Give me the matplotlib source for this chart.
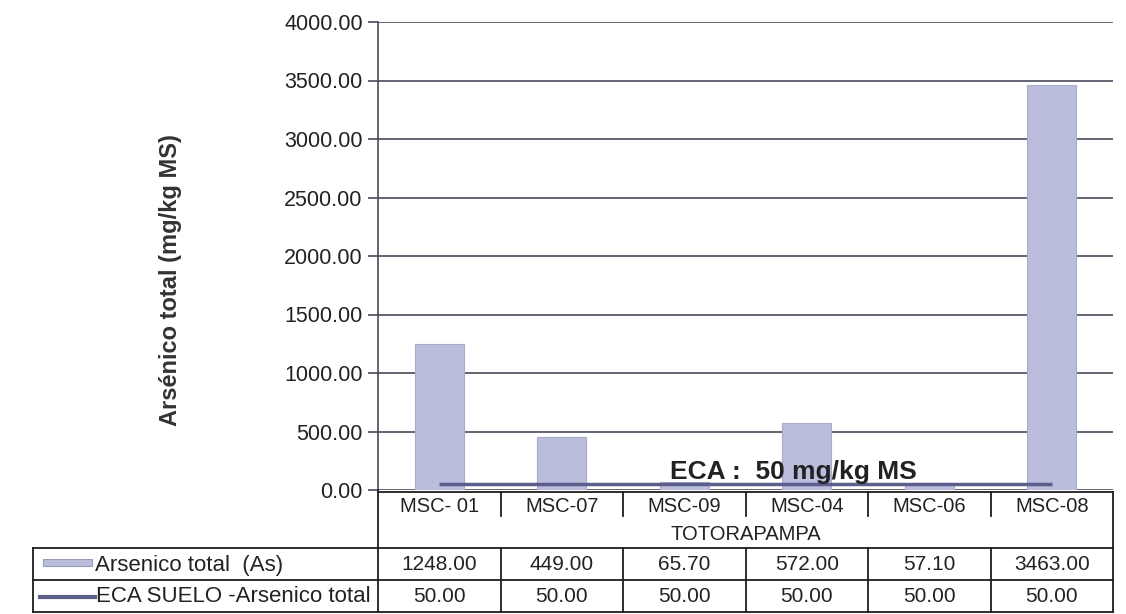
import numpy as np
import matplotlib.pyplot as plt
from matplotlib.patches import Rectangle

plt.rcParams['font.family'] = ['Liberation Sans', 'DejaVu Sans']

# Data
samples = ['MSC- 01', 'MSC-07', 'MSC-09', 'MSC-04', 'MSC-06', 'MSC-08']
arsenic = [1248.00, 449.00, 65.70, 572.00, 57.10, 3463.00]
eca = [50.00, 50.00, 50.00, 50.00, 50.00, 50.00]
group_label = 'TOTORAPAMPA'
series_names = ['Arsenico total  (As)', 'ECA SUELO -Arsenico total']
yticks = np.arange(0, 4001, 500)

bar_col = '#babddc'
line_col = '#5c5e8c'
grid_col = '#4a4a5c'
txt_col = '#222222'

W, H = 1126, 614
fig = plt.figure(figsize=(W / 100, H / 100), dpi=100)

# plot area in pixels
x0, x1, ytop, ybot = 378, 1113, 22, 490
ax = fig.add_axes([x0 / W, 1 - ybot / H, (x1 - x0) / W, (ybot - ytop) / H])

x = np.arange(len(samples))
ax.bar(x, arsenic, width=0.4, color=bar_col, edgecolor='#a8abcb', lw=0.8, zorder=2)
ax.plot(x, eca, color=line_col, lw=2.5, zorder=3, solid_capstyle='butt')

ax.set_xlim(-0.5, len(samples) - 0.5)
ax.set_ylim(0, 4000)
ax.set_yticks(yticks)
ax.set_yticklabels([f'{v:.2f}' for v in yticks], fontsize=15.5, color=txt_col)
ax.yaxis.grid(True, color=grid_col, lw=1.2, zorder=1)
ax.set_xticks([])
ax.tick_params(axis='y', length=7, width=1.2, color=grid_col, pad=4)
for s in ['top', 'right', 'bottom']:
    ax.spines[s].set_visible(False)
ax.spines['left'].set_color(grid_col)
ax.spines['left'].set_linewidth(1.2)

fig.text(170 / W, 1 - 280 / H, 'Arsénico total (mg/kg MS)', rotation=90,
         ha='center', va='center', fontsize=17, fontweight='bold', color='#333333')

ax.text(2.89, 150, 'ECA :  50 mg/kg MS', ha='center', va='center',
        fontsize=19, fontweight='bold', color=txt_col, zorder=4)

# data table drawn on an overlay in pixel coordinates
ov = fig.add_axes([0, 0, 1, 1], facecolor='none')
ov.set_xlim(0, W)
ov.set_ylim(H, 0)
ov.axis('off')

n = len(samples)
colw = (x1 - x0) / n
edges = [x0 + i * colw for i in range(n + 1)]
centers = [x0 + (i + 0.5) * colw for i in range(n)]
lc = '#1e1e1e'
r0, r1, r2, r3 = 492, 548, 580, 612
tl = 33

ov.plot([x0, x1], [r0, r0], color=lc, lw=1.3)
ov.plot([x0, x0], [ybot, r3], color=lc, lw=1.3)
ov.plot([x1, x1], [r0, r3], color=lc, lw=1.3)
for e in edges[1:-1]:
    ov.plot([e, e], [r0, 516], color=lc, lw=1.3)
    ov.plot([e, e], [r1, r3], color=lc, lw=1.3)
for yy in [r1, r2, r3]:
    ov.plot([tl, x1], [yy, yy], color=lc, lw=1.3)
ov.plot([tl, tl], [r1, r3], color=lc, lw=1.3)

for c, s in zip(centers, samples):
    ov.text(c, 507, s, ha='center', va='center', fontsize=14.5, color=txt_col)
ov.text((x0 + x1) / 2, 535, group_label, ha='center', va='center', fontsize=14.5, color=txt_col)

for c, a, e in zip(centers, arsenic, eca):
    ov.text(c, 565, f'{a:.2f}', ha='center', va='center', fontsize=15, color=txt_col)
    ov.text(c, 597, f'{e:.2f}', ha='center', va='center', fontsize=15, color=txt_col)

# legend keys
ov.add_patch(Rectangle((43, 559), 49, 7, color=bar_col, ec='#9a9dc2', lw=0.8))
ov.plot([40, 95], [597, 597], color=line_col, lw=3)
ov.text(95, 565, series_names[0], ha='left', va='center', fontsize=16, color=txt_col)
ov.text(96, 597, series_names[1], ha='left', va='center', fontsize=16, color=txt_col)

fig.savefig('out.png', dpi=100)
